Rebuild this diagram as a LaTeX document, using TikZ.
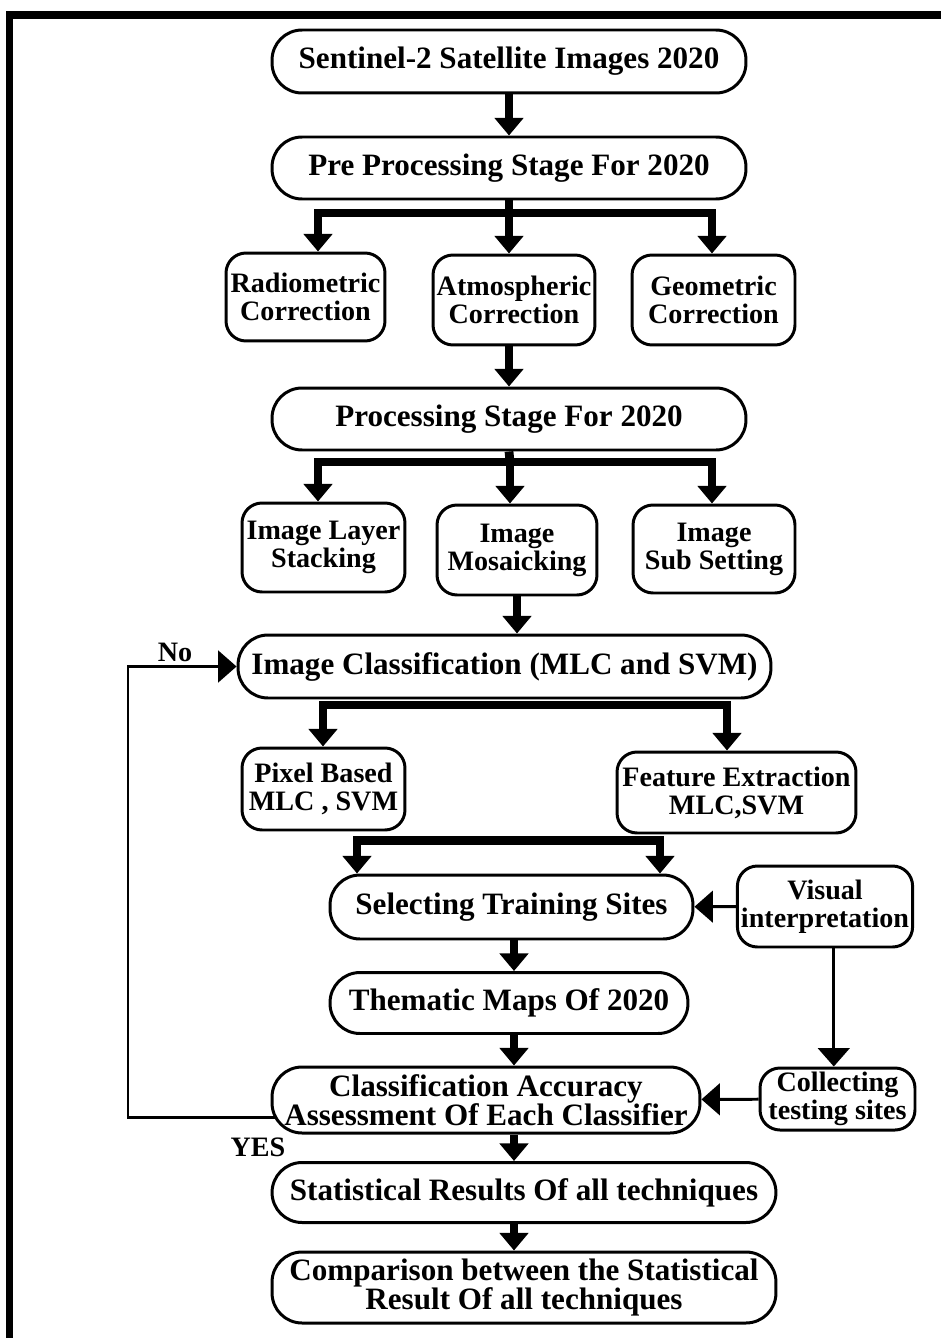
\documentclass[tikz,border=0pt]{standalone}
\usepackage{fontspec}
\setmainfont{Liberation Serif}
\usetikzlibrary{arrows.meta, positioning, calc}

\begin{document}
\begin{tikzpicture}[
  x=0.02cm, y=-0.02cm,
  widebox/.style={
    rectangle, rounded corners=0.6cm, line width=1.7pt,
    draw=black, fill=white,
    minimum width=9.48cm, minimum height=1.24cm, inner sep=2pt,
    align=center, font=\fontsize{17.7}{16.8}\selectfont\bfseries
  },
  smallbox/.style={
    rectangle, rounded corners=0.4cm, line width=1.7pt,
    draw=black, fill=white,
    minimum width=3.2cm, minimum height=1.78cm, inner sep=2pt,
    align=center, font=\fontsize{16}{15.9}\selectfont\bfseries
  },
  fatline/.style={line width=5pt},
  fatbar/.style={line width=5pt, line cap=rect},
  fatarrow/.style={-{Triangle[length=10pt,width=16pt]}, line width=5pt},
  thinarrow/.style={-{Triangle[length=10.5pt,width=18pt]}, line width=1.7pt},
  note/.style={font=\fontsize{16}{16}\selectfont\bfseries}
]
\useasboundingbox (0,0) rectangle (940,1338);

% ---- Frame (top and left edges) ----
\draw[line width=4.2pt] (9.5,1345) -- (9.5,15) -- (945,15);

% ---- Main column ----
\node[widebox, minimum height=1.26cm] (sentinel) at (509,61.5) {Sentinel-2 Satellite Images 2020};
\node[widebox] (pre) at (509,168) {Pre Processing Stage For 2020};

\node[smallbox, minimum width=3.18cm, minimum height=1.76cm] (rad) at (305.5,297) {Radiometric\\Correction};
\node[smallbox, minimum width=3.24cm, minimum height=1.8cm] (atm) at (514,300) {Atmospheric\\Correction};
\node[smallbox, minimum width=3.26cm, minimum height=1.8cm] (geo) at (713.5,300) {Geometric\\Correction};

\node[widebox] (proc) at (509,419) {Processing Stage For 2020};

\node[smallbox, minimum width=3.26cm] (stack) at (323.5,547.5) {Image Layer\\Stacking};
\node[smallbox, minimum height=1.8cm] (mosaic) at (517,550) {Image\\Mosaicking};
\node[smallbox, minimum width=3.24cm, minimum height=1.76cm] (subset) at (714,549) {Image\\Sub Setting};

\node[widebox, minimum width=10.66cm, minimum height=1.26cm] (classif) at (504.5,666.5) {Image Classification (MLC and SVM)};

\node[smallbox, minimum width=3.26cm, minimum height=1.64cm] (pixel) at (323.5,789) {Pixel Based\\MLC , SVM};
\node[smallbox, minimum width=4.78cm, minimum height=1.62cm] (feature) at (736.5,792.5) {Feature Extraction\\MLC,SVM};

\node[widebox, minimum width=7.26cm, minimum height=1.28cm] (training) at (511.5,907) {Selecting Training Sites};
\node[smallbox, minimum width=3.48cm, minimum height=1.62cm] (visual) at (825,906.5) {Visual\\interpretation};

\node[widebox, minimum width=7.16cm, minimum height=1.22cm] (thematic) at (509,1003) {Thematic Maps Of 2020};
\node[widebox, minimum width=8.56cm, minimum height=1.32cm] (accuracy) at (486,1100) {Classification Accuracy\\Assessment Of Each Classifier};
\node[smallbox, minimum width=3.1cm, minimum height=1.24cm] (collect) at (837.5,1099) {Collecting\\testing sites};

\node[widebox, minimum width=10.08cm, minimum height=1.2cm] (stats) at (524,1192.5) {Statistical Results Of all techniques};
\node[widebox, minimum width=10.08cm, minimum height=1.42cm] (compare) at (524,1287.5) {Comparison between the Statistical\\Result Of all techniques};

% ---- Decision labels ----
\node[note] (no) at (175,652) {No};
\node[note] (yes) at (258,1147) {YES};

% ---- Forks ----
\coordinate (fork1) at (509,213);
\coordinate (f1l) at (318,213);
\coordinate (f1r) at (712,213);
\coordinate (fork2) at (510,462);
\coordinate (f2l) at (318,462);
\coordinate (f2r) at (712,462);
\coordinate (f3l) at (323,705);
\coordinate (f3r) at (727,705);
\coordinate (f4l) at (357,840.5);
\coordinate (f4r) at (660,840.5);
\coordinate (spine) at (514,0);

\draw[fatarrow] (sentinel) -- (pre);

\draw[fatline] (pre.south) -- (fork1);
\draw[fatbar] (f1l) -- (f1r);
\foreach \f/\n in {f1l/rad, fork1/atm, f1r/geo} {
  \draw[fatarrow] (\f) -- (\f |- \n.north);
}

\draw[fatarrow] (atm.south -| proc.north) -- (proc.north);

\draw[fatline] (proc.south) -- (fork2);
\draw[fatbar] (f2l) -- (f2r);
\foreach \f/\n in {f2l/stack, fork2/mosaic, f2r/subset} {
  \draw[fatarrow] (\f) -- (\f |- \n.north);
}

\draw[fatarrow] (mosaic.south) -- (mosaic.south |- classif.north);

\draw[fatbar] (f3l) -- (f3r);
\draw[fatarrow] (f3l) -- (f3l |- pixel.north);
\draw[fatarrow] (f3r) -- (f3r |- feature.north);

\draw[fatbar] (f4l) -- (f4r);
\foreach \f in {f4l, f4r} {
  \draw[fatarrow] (\f) -- (\f |- training.north);
}

% ---- Lower chain ----
\draw[fatarrow] (training.south -| spine) -- (thematic.north -| spine);
\draw[fatarrow] (thematic.south -| spine) -- (accuracy.north -| spine);
\draw[fatarrow] (accuracy.south -| spine) -- (stats.north -| spine);
\draw[fatarrow] (stats.south -| spine) -- (compare.north -| spine);

% ---- Side inputs ----
\draw[thinarrow] (visual) -- (training);
\draw[thinarrow] ([xshift=5]visual.south) -- ([xshift=5]visual.south |- collect.north);
\draw[thinarrow] (collect) -- (accuracy);

% ---- Feedback loop (No) ----
\coordinate (fbcorner) at (128,666.5);
\draw[thinarrow] ([shift={(5,17)}]accuracy.west) -| (fbcorner) -- (classif.west);

\end{tikzpicture}
\end{document}
